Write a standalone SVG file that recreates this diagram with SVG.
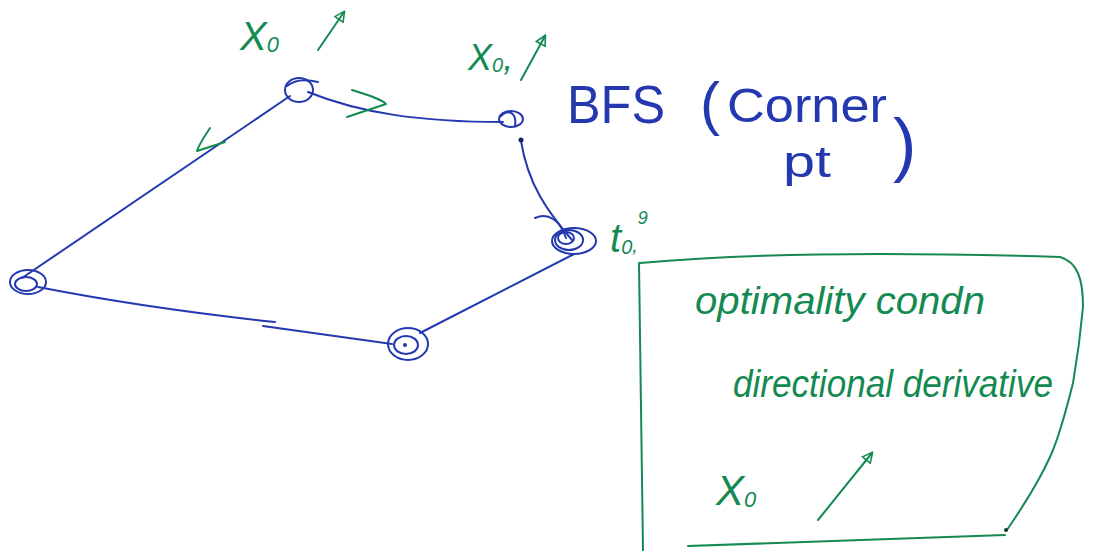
<svg xmlns="http://www.w3.org/2000/svg" width="1096" height="551" viewBox="0 0 1096 551">
<defs>
<style>
.blue{fill:none;stroke:#2438b0;stroke-width:2;stroke-linecap:round;stroke-linejoin:round}
.green{fill:none;stroke:#148a52;stroke-width:2;stroke-linecap:round;stroke-linejoin:round}
.gt{fill:#148a52;font-family:"Liberation Sans",sans-serif;font-style:italic}
.bt{fill:#2438b0;font-family:"Liberation Sans",sans-serif}
</style>
<marker id="ah" viewBox="0 0 12 12" refX="10" refY="6" markerWidth="12" markerHeight="12" markerUnits="userSpaceOnUse" orient="auto">
<path d="M1 1 L11 6 L1 11 Z" fill="none" stroke="#148a52" stroke-width="1.6"/>
</marker>
</defs>
<rect width="1096" height="551" fill="#ffffff"/>
<g id="connectors">
<path class="blue" d="M308 92 C360 113 420 122 503 122"/>
<path class="blue" d="M290 96 L22 278"/>
<path class="blue" d="M38 287 C120 303 200 314 275 322"/>
<path class="blue" d="M263 326 L392 344"/>
<path class="blue" d="M420 333 L574 254"/>
<path class="blue" d="M521 141 C528 185 548 212 572 240"/>
<circle cx="521" cy="140" r="2.5" fill="#1a2060"/>
<path class="green" d="M352 90 C368 95 382 99 386 104 L347 117"/>
<path class="green" d="M210 128 C204 137 199 144 197 151 L225 142"/>
</g>
<g id="node-top">
<ellipse class="blue" cx="299" cy="90" rx="14" ry="12"/>
<path class="blue" d="M287 86 C295 79 306 79 318 82"/>
</g>
<g id="node-upper-right">
<ellipse class="blue" cx="511" cy="119" rx="12" ry="8"/>
<path class="blue" d="M501 116 C508 109 517 112 515 126"/>
</g>
<g id="node-right">
<ellipse class="blue" cx="574" cy="241" rx="22" ry="13"/>
<ellipse class="blue" cx="569" cy="240" rx="14" ry="10"/>
<ellipse class="blue" cx="566" cy="238" rx="8" ry="6"/>
<path class="blue" d="M535 218 C548 212 560 220 566 238"/>
</g>
<g id="node-bottom">
<ellipse class="blue" cx="408" cy="344" rx="20" ry="16"/>
<ellipse class="blue" cx="406" cy="345" rx="12" ry="9"/>
<circle cx="405" cy="345" r="2" fill="#2438b0"/>
</g>
<g id="node-left">
<ellipse class="blue" cx="28" cy="282" rx="18" ry="12"/>
<ellipse class="blue" cx="26" cy="284" rx="11" ry="7"/>
</g>
<g id="label-top">
<text class="gt" x="240" y="50" font-size="40">X<tspan font-size="22" dy="2">0</tspan></text>
<path class="green" d="M318 50 L344 12" marker-end="url(#ah)"/>
</g>
<g id="label-upper-right">
<text class="gt" x="468" y="70" font-size="36">X<tspan font-size="20" dy="2">0</tspan><tspan dy="-2">,</tspan></text>
<path class="green" d="M521 80 L545 36" marker-end="url(#ah)"/>
</g>
<g id="label-right">
<text class="gt" x="610" y="252" font-size="40">t<tspan font-size="20" dy="2">0</tspan><tspan font-size="20" dy="-2">,</tspan><tspan font-size="18" dy="-28">9</tspan></text>
</g>
<g id="bfs-label">
<text class="bt" x="567" y="123" font-size="54" textLength="98" lengthAdjust="spacingAndGlyphs">BFS</text>
<text class="bt" x="700" y="124" font-size="60">(</text>
<text class="bt" x="727" y="122" font-size="48" textLength="160" lengthAdjust="spacingAndGlyphs">Corner</text>
<text class="bt" x="783" y="177" font-size="44" textLength="48" lengthAdjust="spacingAndGlyphs">pt</text>
<text class="bt" x="893" y="168" font-size="70">)</text>
</g>
<g id="note-box">
<path class="green" d="M640 263 C760 252 900 252 1060 257 C1078 262 1083 280 1083 307 C1080 340 1077 360 1073 383 C1065 415 1058 440 1050 457 C1035 490 1020 510 1007 530"/>
<path class="green" d="M639 263 C641 400 642 480 643 551"/>
<path class="green" d="M688 546 C790 542 900 539 1005 535"/>
<circle cx="1006" cy="530" r="2" fill="#0c3a25"/>
<text class="gt" x="695" y="314" font-size="38" textLength="290" lengthAdjust="spacingAndGlyphs">optimality condn</text>
<text class="gt" x="733" y="397" font-size="38" textLength="320" lengthAdjust="spacingAndGlyphs">directional derivative</text>
<text class="gt" x="716" y="505" font-size="42">X<tspan font-size="22" dy="2">0</tspan></text>
<path class="green" d="M818 520 L872 453" marker-end="url(#ah)"/>
</g>
</svg>
